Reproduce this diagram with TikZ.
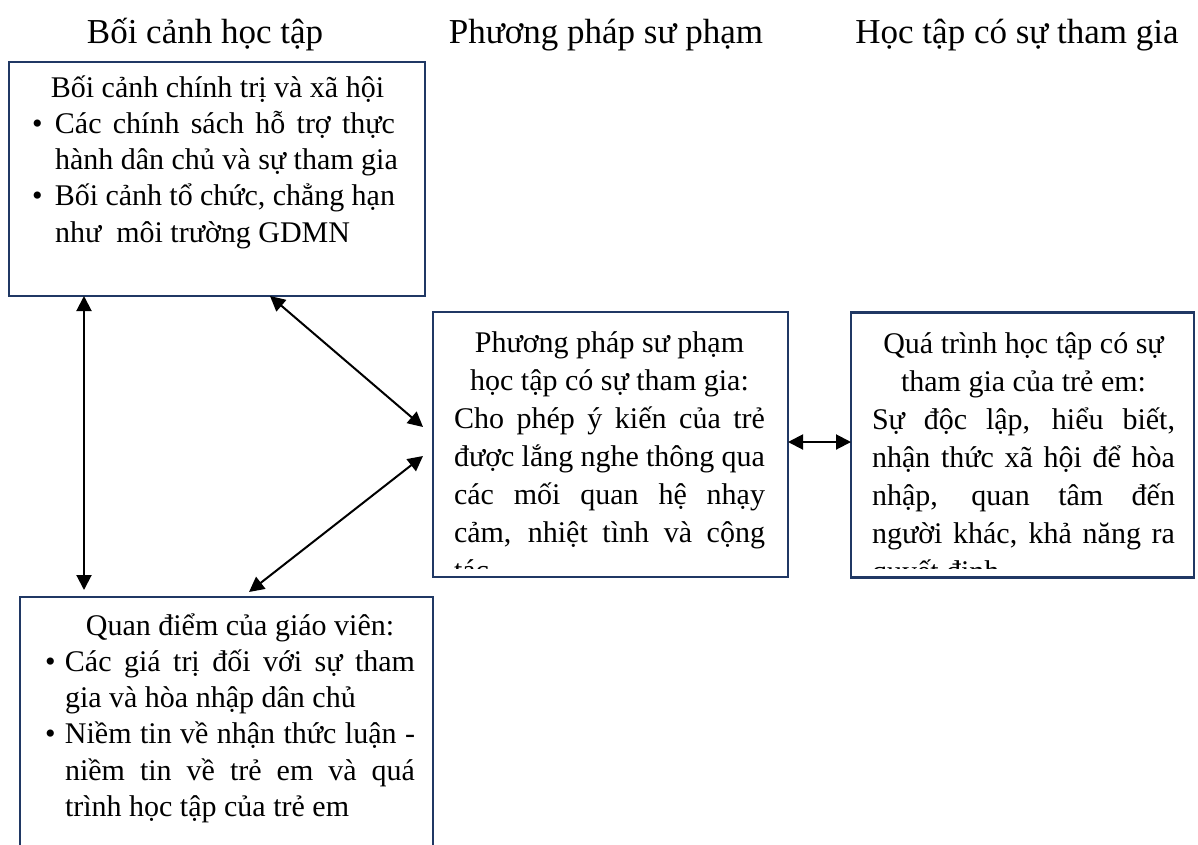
\documentclass[tikz,border=0pt]{standalone}
\usepackage{fontspec}
\setmainfont{Liberation Serif}
\usetikzlibrary{arrows.meta,calc}
\definecolor{frameblue}{RGB}{32,56,100}
% bullet boxes for the two bulleted boxes
\newcommand{\bulA}{\makebox[23pt][l]{\textbullet}}
\newcommand{\bulB}{\makebox[20pt][l]{\textbullet}}
\begin{document}
\begin{tikzpicture}[x=1pt,y=-1pt,
  box/.style={draw=frameblue, line width=2.8pt, rectangle, inner sep=0pt, outer sep=0pt},
  % multi-line blocks are placed by the baseline of their last line
  body/.style={inner sep=0pt, outer sep=0pt, align=left, anchor=base west},
  bodyA/.style={body, font=\fontsize{30}{36.3}\selectfont},
  bodyB/.style={body, font=\fontsize{30}{38}\selectfont},
  head/.style={inner sep=0pt, outer sep=0pt, anchor=base, font=\fontsize{35}{40}\selectfont},
  link/.style={line width=2pt, {Triangle[length=15pt,width=15pt]}-{Triangle[length=15pt,width=15pt]}}]
\useasboundingbox (0,0) rectangle (1198,844);
\fill[white] (0,0) rectangle (1198,844);
\clip (0,0) rectangle (1198,844);

% column headings
\node[head] (h1) at (205,43) {Bối cảnh học tập};
\node[head] (h2) at (606,43) {Phương pháp sư phạm};
\node[head] (h3) at (1017,43) {Học tập có sự tham gia};

% frames
\node[box, minimum width=416pt, minimum height=234pt] (ctx) at (217,179) {};
\node[box, minimum width=355pt, minimum height=265pt] (ped) at (610.5,444.5) {};
\node[box, minimum width=343pt, minimum height=265pt] (kid) at (1022.5,445) {};
\node[box, minimum width=413pt, minimum height=300pt] (teach) at (226.5,747) {};

% political and social context
\node[bodyA] (ctxtext) at (32,242.2) {%
\hspace*{8pt}\makebox[355pt][c]{Bối cảnh chính trị và xã hội}\\
\bulA\makebox[340pt][s]{Các chính sách hỗ trợ thực}\\
\hspace*{23pt}hành dân chủ và sự tham gia\\
\bulA\makebox[340pt][s]{Bối cảnh tổ chức, chẳng hạn}\\
\hspace*{23pt}như\ \ môi trường GDMN};

% participatory pedagogy
\begin{scope}
\clip (433,312) rectangle (788,568);
\node[bodyB] (pedtext) at (454,580) {%
\makebox[311pt][c]{Phương pháp sư phạm}\\
\makebox[311pt][c]{học tập có sự tham gia:}\\
\makebox[311pt][s]{Cho phép ý kiến của trẻ}\\
\makebox[311pt][s]{được lắng nghe thông qua}\\
\makebox[311pt][s]{các mối quan hệ nhạy}\\
\makebox[311pt][s]{cảm, nhiệt tình và cộng}\\
tác.};
\end{scope}

% children's participatory learning
\begin{scope}
\clip (851,312) rectangle (1194,568);
\node[bodyB] (kidtext) at (872,581) {%
\makebox[303pt][c]{Quá trình học tập có sự}\\
\makebox[303pt][c]{tham gia của trẻ em:}\\
\makebox[303pt][s]{Sự độc lập, hiểu biết,}\\
\makebox[303pt][s]{nhận thức xã hội để hòa}\\
\makebox[303pt][s]{nhập, quan tâm đến}\\
\makebox[303pt][s]{người khác, khả năng ra}\\
quyết định};
\end{scope}

% teachers' perspectives
\node[bodyA] (teachtext) at (45,816.5) {%
\hspace*{20pt}\makebox[350pt][c]{Quan điểm của giáo viên:}\\
\bulB\makebox[350pt][s]{Các giá trị đối với sự tham}\\
\hspace*{20pt}gia và hòa nhập dân chủ\\
\bulB\makebox[350pt][s]{Niềm tin về nhận thức luận -}\\
\hspace*{20pt}\makebox[350pt][s]{niềm tin về trẻ em và quá}\\
\hspace*{20pt}trình học tập của trẻ em};

% connectors
\draw[link] ([xshift=75pt]ctx.south west) -- ([xshift=64pt,yshift=7pt]teach.north west);
\draw[link] ([xshift=261pt]ctx.south west) -- ([xshift=-10pt,yshift=-115pt]ped.north west);
\draw[link] ([xshift=-10pt,yshift=-144pt]ped.north west) -- ([xshift=229pt,yshift=5pt]teach.north west);
\draw[link] ([yshift=2.5pt]ped.east) -- ([yshift=3pt]kid.west);
\end{tikzpicture}
\end{document}
